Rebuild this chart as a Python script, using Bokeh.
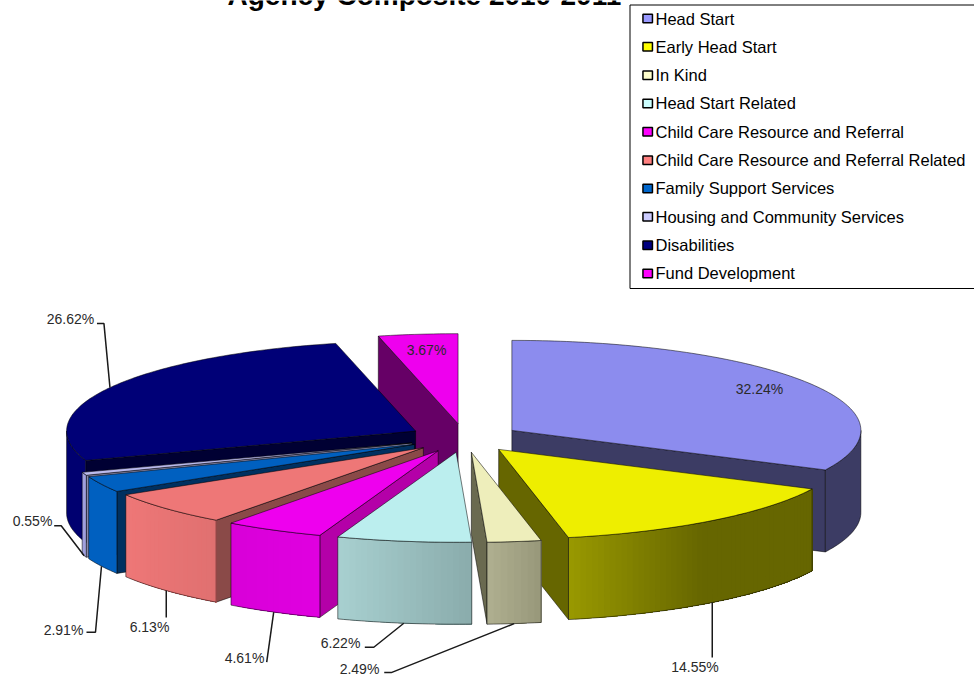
import math
from bokeh.plotting import figure
from bokeh.embed import file_html
from bokeh.resources import INLINE
from bokeh.core.properties import value

TITLE = "Agency Composite 2010-2011"
categories = ["Head Start", "Early Head Start", "In Kind", "Head Start Related",
              "Child Care Resource and Referral", "Child Care Resource and Referral Related",
              "Family Support Services", "Housing and Community Services", "Disabilities",
              "Fund Development"]
shares = [32.24, 14.55, 2.49, 6.22, 4.61, 6.13, 2.91, 0.55, 26.62, 3.67]
labels = ["32.24%", "14.55%", "2.49%", "6.22%", "4.61%", "6.13%", "2.91%", "0.55%", "26.62%", "3.67%"]

# ---- styles
legend_colors = ["#9999ff", "#ffff00", "#ffffcc", "#ccffff", "#ff00ff", "#ff8080", "#0066cc", "#ccccff", "#000080", "#ff00ff"]
top_colors = ["#8c8cee", "#eeee00", "#eeeebb", "#bbeeee", "#ee00ee", "#ee7777", "#0060c0", "#bbbbee", "#000077", "#ee00ee"]
cut_colors = ["#3c3c64", "#666600", "#6a6a50", "#5f7f7f", "#b400a8", "#8a4a48", "#003060", "#8888aa", "#000033", "#660066"]
wall_left = ["#3c3c64", "#999900", "#b0b090", "#a8d0d0", "#d800d8", "#ee7777", "#0060c0", "#a0a0dd", "#000070", "#660066"]
wall_right = ["#3c3c64", "#666600", "#98987a", "#8aacac", "#e000e0", "#e07070", "#0060c0", "#a0a0dd", "#000070", "#660066"]
wall_stop = [1, 0.55, 1, 1, 1, 1, 1, 1, 1, 1]
draw_order = [0, 9, 1, 8, 7, 6, 5, 4, 2, 3]

# ---- projection of the exploded pie
CX, CY, RX, RY, DEPTH, EXPLODE = 464.0, 437.5, 349.0, 90.0, 82.0, 0.16

total = sum(shares)
edges = [0.0]
for s in shares:
    edges.append(edges[-1] + s / total * 360.0)


def hex2rgb(c):
    return tuple(int(c[i:i + 2], 16) for i in (1, 3, 5))


def mix(c1, c2, t):
    a, b = hex2rgb(c1), hex2rgb(c2)
    return "#%02x%02x%02x" % tuple(round(a[i] + (b[i] - a[i]) * t) for i in range(3))


def ray(deg):
    r = math.radians(deg)
    return RX * math.sin(r), -RY * math.cos(r)


def arc(a, b, step=1.0):
    n = max(2, int(abs(b - a) / step) + 1)
    return [a + (b - a) * i / (n - 1) for i in range(n)]


p = figure(width=974, height=679, x_range=(0, 974), y_range=(679, 0), output_backend="svg",
           toolbar_location=None, min_border=0, outline_line_color=None)
p.xaxis.visible = False
p.yaxis.visible = False
p.grid.visible = False
p.background_fill_color = "white"
p.border_fill_color = "white"

EDGE = dict(line_color="#000000", line_alpha=0.65, line_width=0.8)


def apex(i):
    mid = (edges[i] + edges[i + 1]) / 2
    ox, oy = ray(mid)
    return CX + EXPLODE * ox, CY + EXPLODE * oy


for i in draw_order:
    a, b = edges[i], edges[i + 1]
    ax, ay = apex(i)
    # cut faces
    for deg, visible in ((a, math.sin(math.radians(a)) < -1e-6), (b, math.sin(math.radians(b)) > 1e-6)):
        if visible:
            dx, dy = ray(deg)
            p.patch([ax, ax + dx, ax + dx, ax], [ay, ay + dy, ay + dy + DEPTH, ay + DEPTH],
                    fill_color=cut_colors[i], **EDGE)
    # outer wall: painted left to right, each strip running to the right end so no seams show
    w0, w1 = max(a, 90.0), min(b, 270.0)
    if w1 > w0:
        ths = arc(w0, w1)
        rim = sorted((ax + ray(t)[0], ay + ray(t)[1]) for t in ths)
        rim_x = [q[0] for q in rim]
        rim_y = [q[1] for q in rim]
        xl, xr = rim_x[0], rim_x[-1]
        flat = wall_left[i] == wall_right[i]
        strips_x, strips_y, strips_c = [], [], []
        for k in range(1 if flat else len(rim) - 1):
            f = (0.5 * (rim_x[k] + rim_x[k + 1]) - xl) / (xr - xl)
            sx, sy = rim_x[k:], rim_y[k:]
            strips_x.append(sx + sx[::-1])
            strips_y.append(sy + [y + DEPTH for y in sy[::-1]])
            strips_c.append(mix(wall_left[i], wall_right[i], min(1.0, f / wall_stop[i])))
        p.patches(strips_x, strips_y, fill_color=strips_c, line_color=None)
        p.patch(rim_x + rim_x[::-1], rim_y + [y + DEPTH for y in rim_y[::-1]],
                fill_color=None, fill_alpha=0, **EDGE)
    # top face
    ths = arc(a, b)
    p.patch([ax] + [ax + ray(t)[0] for t in ths], [ay] + [ay + ray(t)[1] for t in ths],
            fill_color=top_colors[i], **EDGE)

# ---- leader lines: elbows relative to each slice's anchor
leaders = {
    8: [(-6, -64), (-13, -64)],
    7: [(-23, -30), (-30, -30)],
    6: [(-6, 66), (-15, 66)],
    5: [(0, 27)],
    4: [(-7, 50)],
    3: [(-30, 24), (-39, 24)],
    2: [(-123, 49), (-130, 49)],
    1: [(0, 55)],
}
label_at = {0: (759, 388), 1: (694.5, 666), 2: (359, 668), 3: (340, 642), 4: (244, 657),
            5: (149, 626), 6: (63, 629), 7: (32, 520), 8: (70, 318), 9: (426, 349)}

lx, ly = [], []
for i, elbows in leaders.items():
    mid = (edges[i] + edges[i + 1]) / 2
    ax, ay = apex(i)
    dx, dy = ray(mid)
    x0, y0 = ax + dx, ay + dy + (0 if i == 8 else DEPTH)
    lx.append([x0] + [x0 + e[0] for e in elbows])
    ly.append([y0] + [y0 + e[1] for e in elbows])
p.multi_line(lx, ly, line_color="#1a1a1a", line_width=1.5)

p.text([label_at[i][0] for i in range(10)], [label_at[i][1] for i in range(10)], text=labels,
       text_font=value("Liberation Sans"), text_font_size="14px", text_color="#2a2a2a",
       text_align="center", text_baseline="middle")

# ---- title
p.text([227], [4.5], text=[TITLE], text_font=value("Liberation Sans"), text_font_style="bold",
       text_font_size="28px", text_color="#000000", text_align="left", text_baseline="alphabetic",
       y_offset=-10)

# ---- legend
LEG_X, LEG_Y0, LEG_Y1, FIRST, STEP = 629.5, 4.5, 288.0, 18.0, 28.33
p.quad(left=[LEG_X], right=[990], top=[LEG_Y0], bottom=[LEG_Y1], fill_color="white",
       line_color="#000000", line_width=1)
rows = [FIRST + k * STEP for k in range(len(categories))]
p.rect([647.2] * len(rows), rows, width=9.5, height=8.5, fill_color=legend_colors,
       line_color="#000000", line_width=1.5)
p.text([655] * len(rows), rows, text=categories, text_font=value("Liberation Sans"),
       text_font_size="16.5px", text_color="#000000", text_align="left", text_baseline="middle")

open("out.html", "w").write(file_html(p, INLINE))
